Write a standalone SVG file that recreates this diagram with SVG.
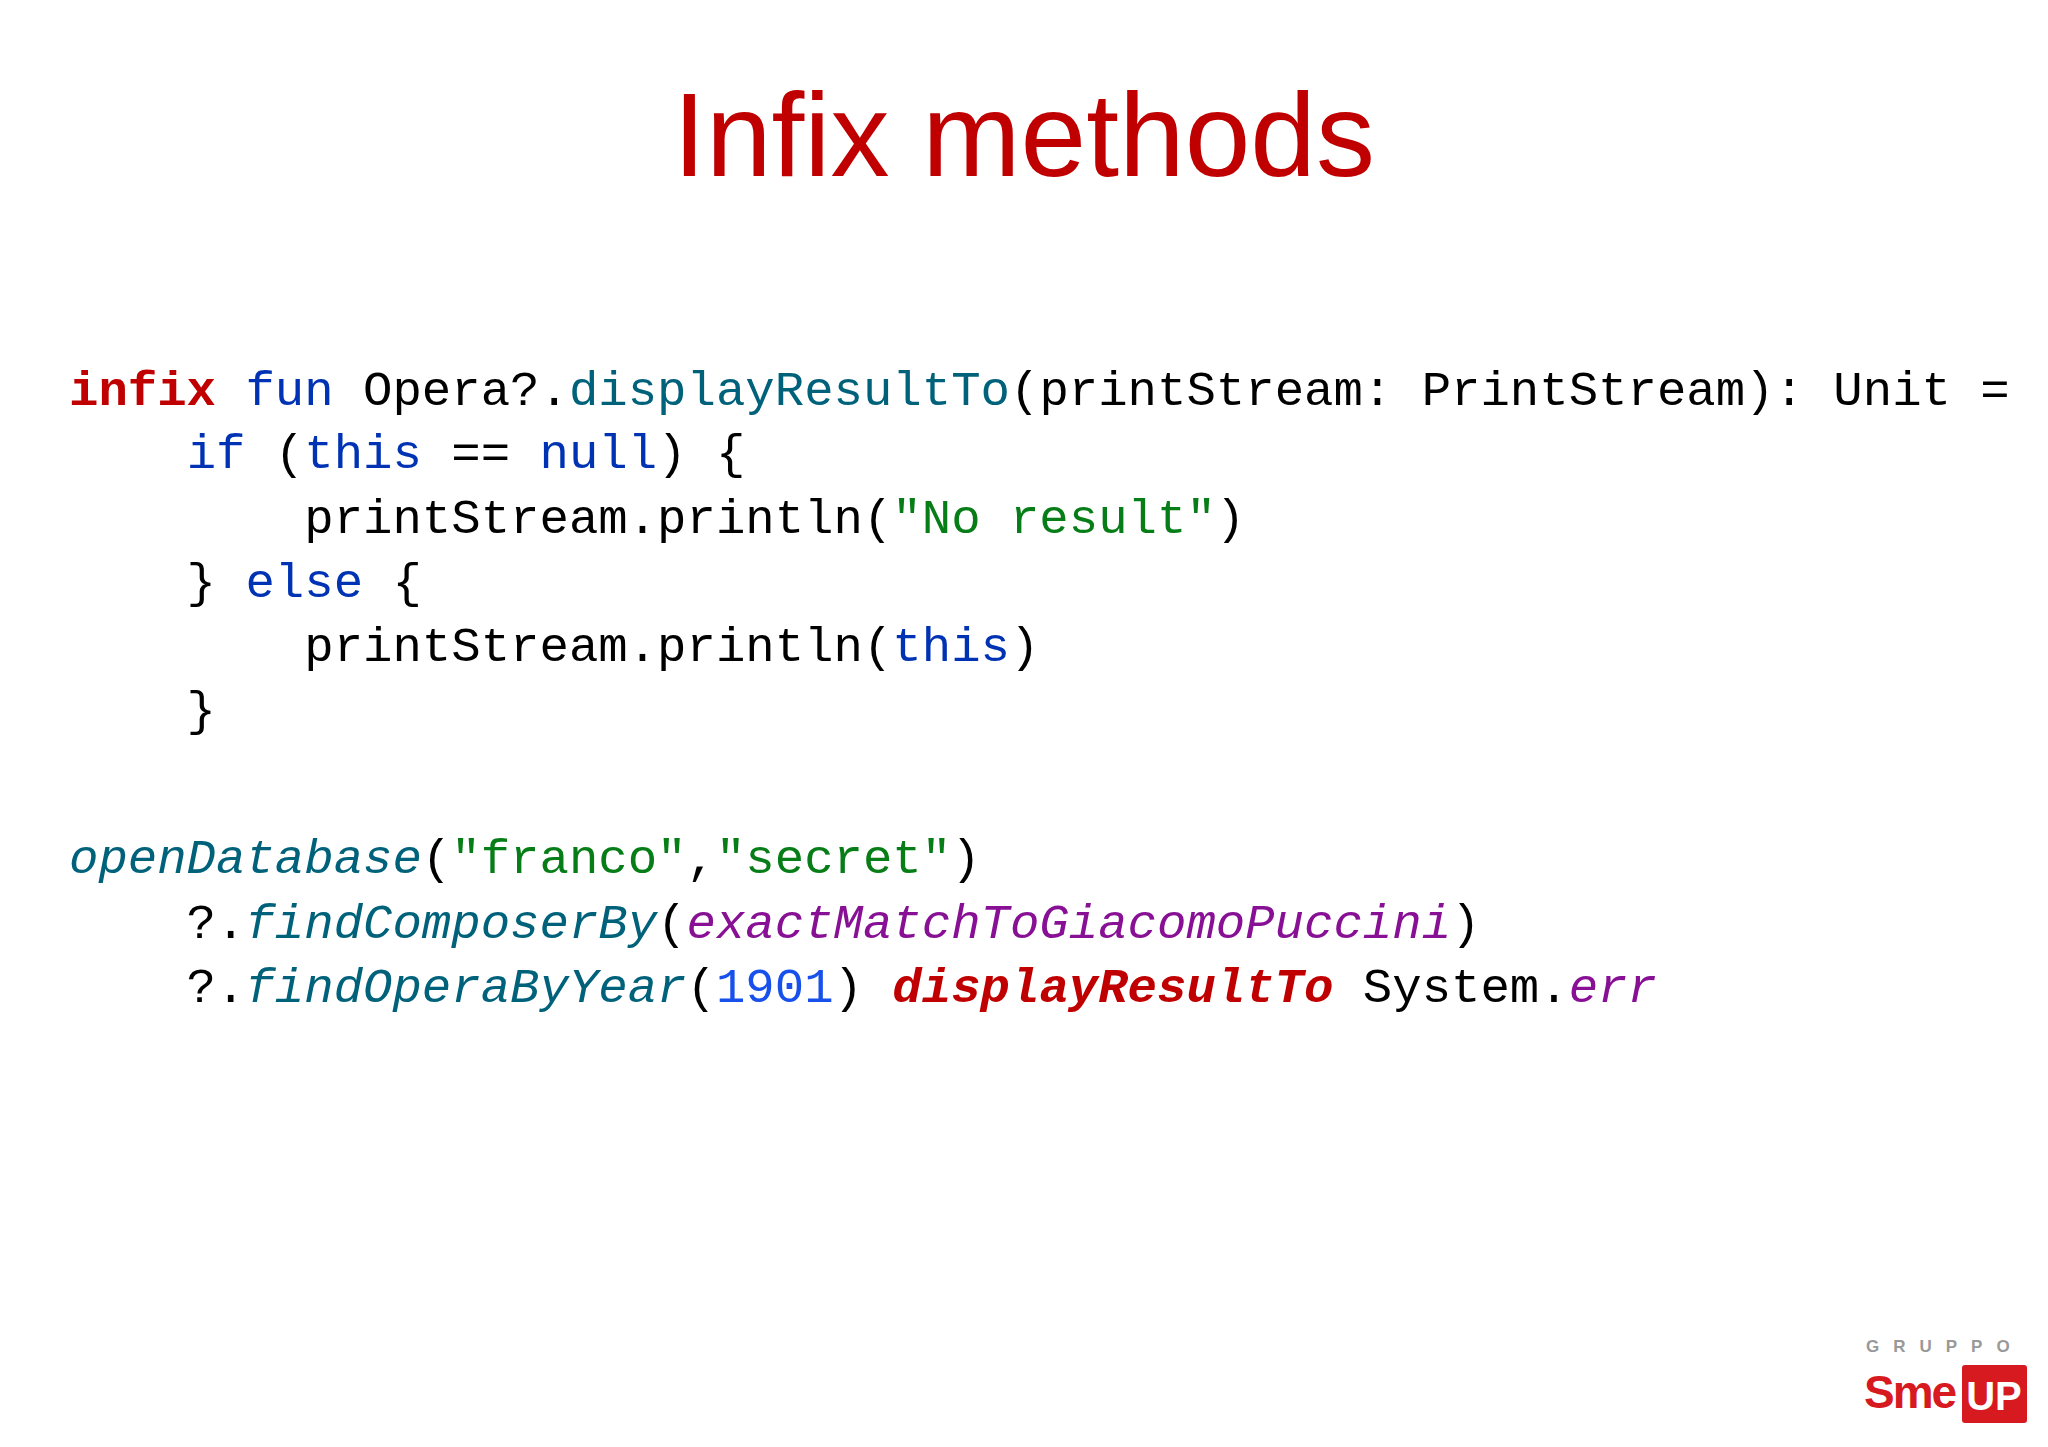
<svg xmlns="http://www.w3.org/2000/svg" width="2048" height="1447" viewBox="0 0 2048 1447">
<style>
.c{font-family:"Liberation Mono","DejaVu Sans Mono",monospace;font-size:49px;fill:#000;white-space:pre}
.kw{fill:#0033b3}.kr{fill:#c00000;font-weight:bold}.fn{fill:#00627a}.st{fill:#067d17}
.it{font-style:italic}.pu{fill:#871094;font-style:italic}.nu{fill:#1750eb}
.dr{fill:#c00000;font-weight:bold;font-style:italic}
</style>
<rect width="2048" height="1447" fill="#fff"/>
<text id="title" x="1024" y="176" text-anchor="middle" font-family="Liberation Sans, Arial, sans-serif" font-size="118" fill="#c00000">Infix methods</text>
<g id="code">
<text class="c" x="69" y="405"><tspan class="kr">infix</tspan> <tspan class="kw">fun</tspan> Opera?.<tspan class="fn">displayResultTo</tspan>(printStream: PrintStream): Unit =</text>
<text class="c" x="69" y="468">    <tspan class="kw">if</tspan> (<tspan class="kw">this</tspan> == <tspan class="kw">null</tspan>) {</text>
<text class="c" x="69" y="533">        printStream.println(<tspan class="st">"No result"</tspan>)</text>
<text class="c" x="69" y="597">    } <tspan class="kw">else</tspan> {</text>
<text class="c" x="69" y="661">        printStream.println(<tspan class="kw">this</tspan>)</text>
<text class="c" x="69" y="725">    }</text>
<text class="c" x="69" y="873"><tspan class="fn it">openDatabase</tspan>(<tspan class="st">"franco"</tspan>,<tspan class="st">"secret"</tspan>)</text>
<text class="c" x="69" y="938">    ?.<tspan class="fn it">findComposerBy</tspan>(<tspan class="pu">exactMatchToGiacomoPuccini</tspan>)</text>
<text class="c" x="69" y="1002">    ?.<tspan class="fn it">findOperaByYear</tspan>(<tspan class="nu">1901</tspan>) <tspan class="dr">displayResultTo</tspan> System.<tspan class="pu">err</tspan></text>
</g>
<g id="logo" font-family="Liberation Sans, Arial, sans-serif" font-weight="bold">
<text x="1866" y="1352" font-size="17" fill="#999" letter-spacing="14">GRUPPO</text>
<text x="1864" y="1408" font-size="46" fill="#d71920" letter-spacing="-2">Sme</text>
<rect x="1962" y="1365" width="65" height="58" rx="3" fill="#d71920"/>
<text x="1994" y="1410" font-size="40" fill="#fff" text-anchor="middle">UP</text>
</g>
</svg>
